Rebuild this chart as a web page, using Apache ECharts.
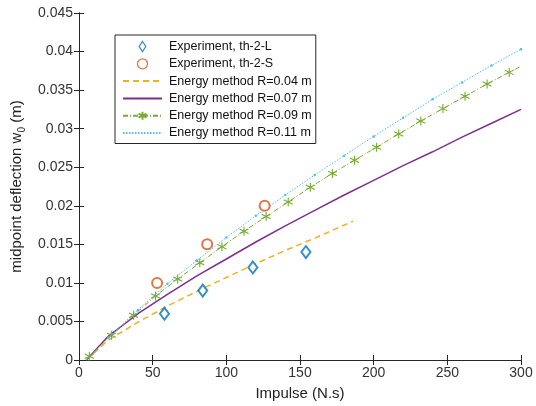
<!DOCTYPE html>
<html><head><meta charset="utf-8">
<script src="https://cdn.jsdelivr.net/npm/echarts@6/dist/echarts.min.js"></script>
<style>html,body{margin:0;padding:0;background:#fff}#c{width:536px;height:406px}</style>
</head><body><div id="c"></div>
<script>
// Experimental data
const expLX = [58, 84, 118, 154];
const expLY = [0.0060, 0.0090, 0.0120, 0.0140];
const expSX = [53, 87, 126];
const expSY = [0.0100, 0.0150, 0.0200];
// Energy method R=0.04 m
const r04X = [5, 20, 40, 60, 80, 100, 120, 140, 160, 186];
const r04Y = [0, 0.0026, 0.0049, 0.0070, 0.0089, 0.0107, 0.0125, 0.0142, 0.0158, 0.0180];
// Energy method R=0.07 m
const r07X = [5, 20, 40, 60, 80, 100, 120, 140, 160, 180, 200, 220, 240, 260, 280, 300];
const r07Y = [0, 0.0031, 0.0060, 0.0085, 0.0109, 0.0131, 0.0153, 0.0174, 0.0194, 0.0214, 0.0233, 0.0252, 0.0270, 0.0289, 0.0307, 0.0325];
// Energy method R=0.09 m (markers)
const r09X = [5, 7, 22, 37, 52, 67, 82, 97, 112, 127, 142, 157, 172, 187, 202, 217, 232, 247, 262, 277, 292, 300];
const r09Y = [0, 0.0005, 0.0032, 0.0058, 0.0083, 0.0105, 0.0126, 0.0147, 0.0167, 0.0186, 0.0205, 0.0224, 0.0242, 0.0259, 0.0276, 0.0293, 0.0310, 0.0326, 0.0342, 0.0358, 0.0373, 0.0381];
// Energy method R=0.11 m
const r11X = [5, 20, 40, 60, 80, 100, 120, 140, 160, 180, 200, 220, 240, 260, 280, 300];
const r11Y = [0, 0.0029, 0.0065, 0.0099, 0.0129, 0.0159, 0.0187, 0.0214, 0.0240, 0.0265, 0.0290, 0.0314, 0.0338, 0.0360, 0.0382, 0.0403];
// Axis ticks
const xTicks = [0, 50, 100, 150, 200, 250, 300];
const yTicks = [0, 0.005, 0.01, 0.015, 0.02, 0.025, 0.03, 0.035, 0.04, 0.045];
const names = ['Experiment, th-2-L', 'Experiment, th-2-S', 'Energy method R=0.04 m', 'Energy method R=0.07 m', 'Energy method R=0.09 m', 'Energy method R=0.11 m'];

const zip = (xs, ys) => xs.map((x, i) => [x, ys[i]]);
const FONT = 'Liberation Sans, Arial, Helvetica, sans-serif';
const AX = '#262626';
const starPath = 'path://M5,0L5,10M0.8,2.5L9.2,7.5M9.2,2.5L0.8,7.5';
const diamondPath = 'path://M4,0L8,6L4,12L0,6Z';
const circlePath = 'path://M5,0A5,5,0,1,1,4.999,0Z';

const chart = echarts.init(document.getElementById('c'), null, {renderer: 'canvas'});
const xCommon = {type: 'value', min: xTicks[0], max: xTicks[xTicks.length - 1], interval: xTicks[1] - xTicks[0], splitLine: {show: false}, axisLine: {show: true, lineStyle: {color: AX, width: 1}}, axisTick: {show: true, inside: true, length: 5, lineStyle: {color: AX}}};
const yCommon = {type: 'value', min: yTicks[0], max: yTicks[yTicks.length - 1], interval: yTicks[1] - yTicks[0], splitLine: {show: false}, axisLine: {show: true, lineStyle: {color: AX, width: 1}}, axisTick: {show: true, inside: true, length: 5, lineStyle: {color: AX}}};

chart.setOption({
  animation: false,
  backgroundColor: '#fff',
  textStyle: {fontFamily: FONT},
  grid: {left: 79, right: 15, top: 13, bottom: 44, containLabel: false},
  legend: {
    orient: 'vertical', left: 115, top: 35,
    padding: [5, 4, 4, 7],
    backgroundColor: '#fff', borderColor: AX, borderWidth: 1,
    itemWidth: 39, itemHeight: 10, itemGap: 4.3,
    symbolKeepAspect: true,
    textStyle: {fontSize: 12.5, color: '#111', fontFamily: FONT, padding: [0, 0, 0, 2]},
    data: [
      {name: names[0], icon: diamondPath, itemStyle: {color: '#fff', borderColor: '#0072BD', borderWidth: 1.3}},
      {name: names[1], icon: circlePath, itemStyle: {color: '#fff', borderColor: '#D95319', borderWidth: 1.3}},
      {name: names[2], itemStyle: {opacity: 0}},
      {name: names[3], itemStyle: {opacity: 0}},
      {name: names[4]},
      {name: names[5], itemStyle: {opacity: 0}}
    ]
  },
  xAxis: [
    Object.assign({}, xCommon, {position: 'bottom', name: 'Impulse (N.s)', nameLocation: 'middle', nameGap: 26,
      nameTextStyle: {fontSize: 15, color: '#222', fontFamily: FONT},
      axisLabel: {fontSize: 14, color: '#333', margin: 6, fontFamily: FONT}}),
    Object.assign({}, xCommon, {position: 'top', axisLabel: {show: false}})
  ],
  yAxis: [
    Object.assign({}, yCommon, {position: 'left', name: '{n|midpoint deflection w}{s|0}{n| (m)}', nameLocation: 'middle', nameGap: 50, nameRotate: 90,
      nameTextStyle: {fontSize: 15, color: '#222', fontFamily: FONT, rich: {n: {fontSize: 15, fontFamily: FONT, color: '#222'}, s: {fontSize: 10, fontFamily: FONT, color: '#222', verticalAlign: 'bottom', padding: [10, 0, 0, 0]}}},
      axisLabel: {fontSize: 14, color: '#333', margin: 6, fontFamily: FONT, formatter: v => String(+v.toFixed(3))}}),
    Object.assign({}, yCommon, {position: 'right', axisLabel: {show: false}})
  ],
  series: [
    {name: names[2], type: 'line', data: zip(r04X, r04Y), showSymbol: false, symbol: 'none', lineStyle: {color: '#EDB120', width: 1.5, type: [6, 4]}, itemStyle: {color: '#EDB120'}, z: 2},
    {name: names[3], type: 'line', data: zip(r07X, r07Y), showSymbol: false, symbol: 'none', lineStyle: {color: '#7E2F8E', width: 1.5}, itemStyle: {color: '#7E2F8E'}, z: 2},
    {name: names[4], type: 'line', data: zip(r09X, r09Y).map((p, i) => (i === 0 || i === r09X.length - 1) ? {value: p, symbol: 'none'} : p),
      symbol: starPath, symbolSize: 9, showAllSymbol: true, lineStyle: {color: '#77AC30', width: 1, type: [5, 2, 1, 2]},
      itemStyle: {color: '#77AC30', borderColor: '#77AC30', borderWidth: 1.1}, z: 3},
    {name: names[5], type: 'line', data: zip(r11X, r11Y).map((p, i) => i === 0 ? {value: p, symbol: 'none'} : p),
      symbol: 'circle', symbolSize: 2.5, showAllSymbol: true, lineStyle: {color: '#4DBEEE', width: 1, type: [1.5, 1.5]}, itemStyle: {color: '#4DBEEE'}, z: 3},
    {name: names[0], type: 'scatter', data: zip(expLX, expLY), symbol: 'emptyDiamond', symbolSize: [9, 12], itemStyle: {color: '#0072BD', borderWidth: 1.3}, z: 4},
    {name: names[1], type: 'scatter', data: zip(expSX, expSY), symbol: 'emptyCircle', symbolSize: 10, itemStyle: {color: '#D95319', borderWidth: 1.3}, z: 4}
  ]
});
</script></body></html>
